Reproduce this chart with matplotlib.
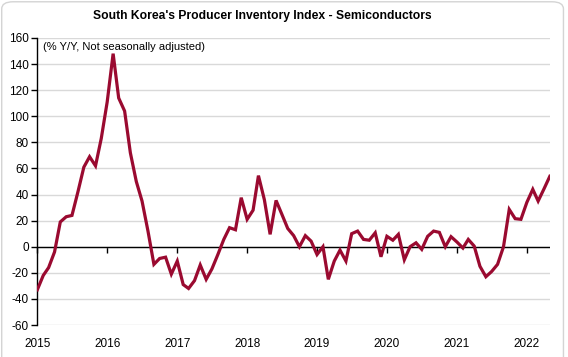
import matplotlib
matplotlib.use("Agg")
import matplotlib.pyplot as plt
import matplotlib.dates as mdates
from matplotlib.patches import FancyBboxPatch
import pandas as pd

title = "South Korea's Producer Inventory Index - Semiconductors"
note = "(% Y/Y, Not seasonally adjusted)"
start_month = "2015-01-01"
values = [
    -33, -22, -16, -4, 19, 23, 24, 42, 61, 69, 62, 83,
    111, 148, 114, 104, 72, 50, 35, 12, -13.5, -9, -8, -21,
    -11, -29, -32, -26, -14, -25, -17, -6, 5.6, 14.6, 13, 37.6,
    21, 28, 54.5, 36, 9.5, 35.5, 25, 14, 8.5, 0, 8.5, 4.3,
    -6, 0, -25, -11, -2.6, -11, 10, 12, 5.6, 5, 10.7, -7.7,
    8, 5, 9.5, -10, 0, 3, -2, 8, 12, 11, 0, 7.7,
    3.6, -1, 5.6, 0.5, -15, -23, -19, -13.5, 0, 28.6, 21.5, 21,
    34, 44, 35, 44.5, 54,
]
dates = pd.date_range(start_month, periods=len(values), freq="MS")
year_ticks = pd.date_range("2015-01-01", "2022-01-01", freq="YS")
y_ticks = list(range(-60, 161, 20))

plt.rcParams['font.family'] = ['Liberation Sans', 'DejaVu Sans']
plt.rcParams['axes.unicode_minus'] = False
fig = plt.figure(figsize=(5.68, 3.57), dpi=100)
fig.patch.set_facecolor('white')

frame = FancyBboxPatch((0.003, -0.05), 0.989, 1.045, boxstyle="round,pad=0,rounding_size=0.02",
                       transform=fig.transFigure, facecolor='none', edgecolor='#d4d4d4',
                       linewidth=1.0, zorder=0)
fig.patches.append(frame)

ax = fig.add_axes([0.0657, 0.0896, 0.968 - 0.0657, 0.8936 - 0.0896])
ax.plot(dates, values, color='#9a0a30', lw=2.3, solid_joinstyle='miter', zorder=3)

ax.set_ylim(-60, 160)
ax.set_yticks(y_ticks)
ax.set_xlim(dates[0], dates[-1])
ax.set_xticks(year_ticks)
ax.xaxis.set_major_formatter(mdates.DateFormatter('%Y'))
ax.grid(axis='y', color='#d9d9d9', lw=1.0, zorder=0)
ax.axhline(0, color='black', lw=1.0, zorder=2)
for s in ['top', 'right', 'bottom']:
    ax.spines[s].set_visible(False)
ax.spines['left'].set_color('black')
ax.spines['left'].set_linewidth(1.0)
ax.tick_params(axis='y', direction='out', length=4, width=1, labelsize=8.5, pad=2)
ax.tick_params(axis='x', length=0, labelsize=8.5, pad=9)

sec = ax.secondary_xaxis(60 / 220)
sec.set_xticks(year_ticks)
sec.tick_params(axis='x', direction='out', length=4, width=1, labelbottom=False, labeltop=False)
sec.spines['bottom'].set_visible(False)
sec.spines['top'].set_visible(False)

ax.text(0.012, 0.985, note, transform=ax.transAxes, ha='left', va='top', fontsize=8)
fig.text(0.462, 0.955, title, ha='center', va='center', fontsize=8.7, fontweight='bold')

fig.savefig('out.png', dpi=100)
